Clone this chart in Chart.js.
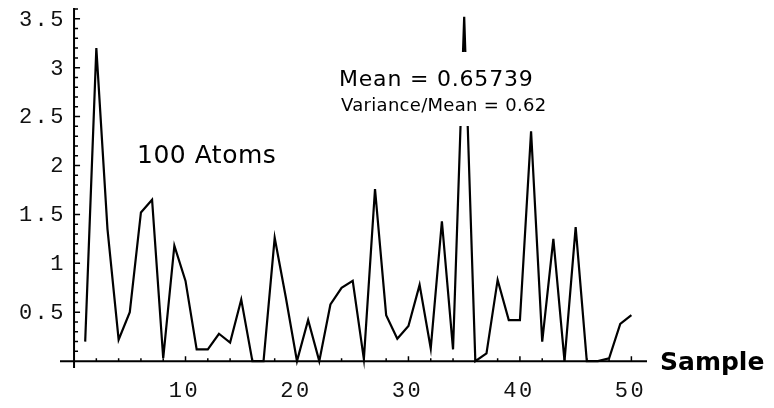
<!DOCTYPE html>
<html>
<head>
<meta charset="utf-8">
<script src="https://cdn.jsdelivr.net/npm/chart.js@4.4.0/dist/chart.umd.min.js"></script>
<style>
  html, body { margin: 0; padding: 0; background: #fff; }
  #wrap { width: 774px; height: 408px; }
</style>
</head>
<body>
<div id="wrap"><canvas id="atomChart" width="774" height="408"></canvas></div>
<script>
const samples = [1, 2, 3, 4, 5, 6, 7, 8, 9, 10,
                 11, 12, 13, 14, 15, 16, 17, 18, 19, 20,
                 21, 22, 23, 24, 25, 26, 27, 28, 29, 30,
                 31, 32, 33, 34, 35, 36, 37, 38, 39, 40,
                 41, 42, 43, 44, 45, 46, 47, 48, 49, 50];
const atomValues = [0.2, 3.2, 1.35, 0.22, 0.5, 1.52, 1.65, 0.03, 1.18, 0.82,
                    0.12, 0.12, 0.28, 0.19, 0.63, 0, 0, 1.26, 0.65, 0,
                    0.42, 0, 0.58, 0.75, 0.82, 0.02, 1.76, 0.47, 0.23, 0.36,
                    0.78, 0.13, 1.43, 0.12, 3.52, 0, 0.08, 0.83, 0.42, 0.42,
                    2.35, 0.2, 1.25, 0, 1.37, 0, 0, 0.03, 0.38, 0.47];

const xTicks = [10, 20, 30, 40, 50];
const xTickLabels = ['10', '20', '30', '40', '50'];
const yTicks = [0.5, 1, 1.5, 2, 2.5, 3, 3.5];
const yTickLabels = ['0.5', '1', '1.5', '2', '2.5', '3', '3.5'];

const xAxisTitle = 'Sample';
const plotTitle = '100 Atoms';
const meanText = 'Mean = 0.65739';
const ratioText = 'Variance/Mean = 0.62';

// axes crossing at the origin, Mathematica style
const axesPlugin = {
    id: 'originAxes',
    beforeDatasetsDraw(chart) {
        const ctx = chart.ctx;
        const xs = chart.scales.x;
        const ys = chart.scales.y;
        const x0 = xs.getPixelForValue(0);
        const y0 = ys.getPixelForValue(0);
        ctx.save();
        ctx.strokeStyle = '#000';
        ctx.lineWidth = 2;
        ctx.beginPath();
        ctx.moveTo(xs.left, y0);
        ctx.lineTo(xs.right, y0);
        ctx.moveTo(x0, ys.top);
        ctx.lineTo(x0, ys.bottom);
        ctx.stroke();

        // minor / major ticks
        ctx.lineWidth = 1.5;
        ctx.beginPath();
        for (let v = 2; v <= 50; v += 2) {
            const px = xs.getPixelForValue(v);
            const len = (v % 10 === 0) ? 5 : 3;
            ctx.moveTo(px, y0);
            ctx.lineTo(px, y0 - len);
        }
        for (let k = 1; k <= 36; k++) {
            const py = ys.getPixelForValue(k / 10);
            const len = (k % 5 === 0) ? 6 : 4;
            ctx.moveTo(x0, py);
            ctx.lineTo(x0 + len, py);
        }
        ctx.stroke();

        // tick labels
        ctx.fillStyle = '#111';
        ctx.font = '22px "Liberation Mono", "DejaVu Sans Mono", monospace';
        ctx.letterSpacing = '2.5px';
        ctx.textBaseline = 'middle';
        ctx.textAlign = 'center';
        xTicks.forEach((v, i) => {
            ctx.fillText(xTickLabels[i], xs.getPixelForValue(v) - 1, 391);
        });
        ctx.textAlign = 'right';
        yTicks.forEach((v, i) => {
            ctx.fillText(yTickLabels[i], 66, ys.getPixelForValue(v) + 1);
        });
        ctx.letterSpacing = '0px';

        ctx.textAlign = 'left';
        ctx.textBaseline = 'alphabetic';
        ctx.font = 'bold 25px "DejaVu Sans", sans-serif';
        ctx.fillStyle = '#000';
        ctx.fillText(xAxisTitle, 660, 370);
        ctx.restore();
    },
    afterDatasetsDraw(chart) {
        const ctx = chart.ctx;
        ctx.save();
        // the statistics box hides the tall spike behind it
        ctx.fillStyle = '#fff';
        ctx.fillRect(335, 52, 215, 74);
        ctx.fillStyle = '#000';
        ctx.textAlign = 'left';
        ctx.textBaseline = 'alphabetic';
        ctx.font = '22px "DejaVu Sans", sans-serif';
        ctx.letterSpacing = '0.8px';
        ctx.fillText(meanText, 339, 86);
        ctx.font = '18px "DejaVu Sans", sans-serif';
        ctx.letterSpacing = '0.3px';
        ctx.fillText(ratioText, 341, 111);
        ctx.font = '25px "DejaVu Sans", sans-serif';
        ctx.letterSpacing = '0.5px';
        ctx.fillText(plotTitle, 137, 163);
        ctx.restore();
    }
};

new Chart(document.getElementById('atomChart'), {
    type: 'line',
    data: {
        datasets: [
            {
                data: samples.map((s, i) => ({ x: s, y: atomValues[i] })),
                borderColor: '#000',
                borderWidth: 2.2,
                pointRadius: 0,
                tension: 0,
                fill: false,
                clip: false
            }
        ]
    },
    options: {
        responsive: false,
        animation: false,
        layout: { padding: { left: 60, right: 127, top: 8, bottom: 40 } },
        scales: {
            x: { type: 'linear', min: -1.26, max: 51.4, display: false },
            y: { type: 'linear', min: -0.07, max: 3.61, display: false }
        },
        plugins: {
            legend: { display: false },
            tooltip: { enabled: false }
        }
    },
    plugins: [axesPlugin]
});
</script>
</body>
</html>
